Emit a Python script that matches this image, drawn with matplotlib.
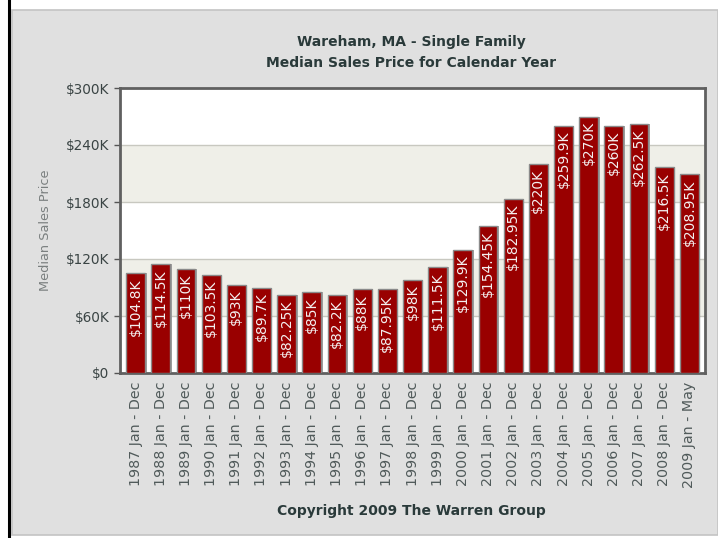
import matplotlib
matplotlib.use("Agg")
import matplotlib.pyplot as plt
from matplotlib.patches import Rectangle
from matplotlib.lines import Line2D
from matplotlib.ticker import FuncFormatter

categories = ["1987 Jan - Dec", "1988 Jan - Dec", "1989 Jan - Dec", "1990 Jan - Dec",
              "1991 Jan - Dec", "1992 Jan - Dec", "1993 Jan - Dec", "1994 Jan - Dec",
              "1995 Jan - Dec", "1996 Jan - Dec", "1997 Jan - Dec", "1998 Jan - Dec",
              "1999 Jan - Dec", "2000 Jan - Dec", "2001 Jan - Dec", "2002 Jan - Dec",
              "2003 Jan - Dec", "2004 Jan - Dec", "2005 Jan - Dec", "2006 Jan - Dec",
              "2007 Jan - Dec", "2008 Jan - Dec", "2009 Jan - May"]
values = [104.8, 114.5, 110, 103.5, 93, 89.7, 82.25, 85, 82.2, 88, 87.95, 98,
          111.5, 129.9, 154.45, 182.95, 220, 259.9, 270, 260, 262.5, 216.5, 208.95]
bar_labels = ["$104.8K", "$114.5K", "$110K", "$103.5K", "$93K", "$89.7K", "$82.25K",
              "$85K", "$82.2K", "$88K", "$87.95K", "$98K", "$111.5K", "$129.9K",
              "$154.45K", "$182.95K", "$220K", "$259.9K", "$270K", "$260K",
              "$262.5K", "$216.5K", "$208.95K"]
y_ticks = [0, 60, 120, 180, 240, 300]
title_lines = ["Wareham, MA - Single Family", "Median Sales Price for Calendar Year"]
y_title = "Median Sales Price"
footer = "Copyright 2009 The Warren Group"

W, H = 718, 538
fig = plt.figure(figsize=(W / 100, H / 100), dpi=100, facecolor="white")

# panel background
fig.patches.append(Rectangle((12 / W, 3 / H), (W - 12) / W, (H - 13) / H,
                             transform=fig.transFigure, facecolor="#e0e0e0",
                             edgecolor="#c4c4c4", linewidth=1.2, zorder=-10))
fig.lines.append(Line2D([9 / W, 9 / W], [0, 1], transform=fig.transFigure,
                        color="black", linewidth=2.2, zorder=-9))

left, right, top, bottom = 120, 705, 88, 373
ax = fig.add_axes([left / W, 1 - bottom / H, (right - left) / W, (bottom - top) / H])
ax.set_facecolor("white")

x = list(range(len(values)))
ax.set_xlim(-0.62, len(values) - 1 + 0.62)
ax.set_ylim(0, 300)

# alternating bands
for i in range(len(y_ticks) - 1):
    if i % 2 == 1:
        ax.axhspan(y_ticks[i], y_ticks[i + 1], color="#efefe8", zorder=0, linewidth=0)
for t in y_ticks[1:-1]:
    ax.axhline(t, color="#c8c8c0", linewidth=1, zorder=1)

# shadow
ax.bar([xi + 0.06 for xi in x], values, width=0.75, color="#a0a0a0", zorder=2, linewidth=0)
ax.bar(x, values, width=0.75, color="#990000", edgecolor="#8a8a8a", linewidth=1, zorder=3)

for xi, v, lab in zip(x, values, bar_labels):
    ax.annotate(lab, (xi, v), xytext=(0, -3.5), textcoords="offset points",
                rotation=90, ha="center", va="top", color="#f4f0f0", fontsize=10,
                zorder=4)

ax.set_yticks(y_ticks)
ax.yaxis.set_major_formatter(FuncFormatter(lambda v, p: "$0" if v == 0 else "${:d}K".format(int(v))))
ax.set_xticks(x)
ax.set_xticklabels(categories, rotation=90, fontsize=10.3, color="#505a5a")
ax.tick_params(axis="y", labelsize=9.8, labelcolor="#3a4444", length=4, color="#555555", width=1)
ax.tick_params(axis="x", length=0, pad=6)
for s in ax.spines.values():
    s.set_color("#606060")
    s.set_linewidth(2)
ax.set_ylabel(y_title, fontsize=9.3, color="#7a7f7f")
ax.yaxis.set_label_coords(-0.117, 0.5)

fig.text(411 / W, 1 - 42 / H, title_lines[0], ha="center", va="center",
         fontsize=10, fontweight="bold", color="#2a3a3a")
fig.text(411 / W, 1 - 63 / H, title_lines[1], ha="center", va="center",
         fontsize=10, fontweight="bold", color="#2a3a3a")
fig.text(411 / W, 1 - 511 / H, footer, ha="center", va="center",
         fontsize=10, fontweight="bold", color="#2a3a3a")

fig.savefig("out.png", dpi=100, facecolor=fig.get_facecolor())
